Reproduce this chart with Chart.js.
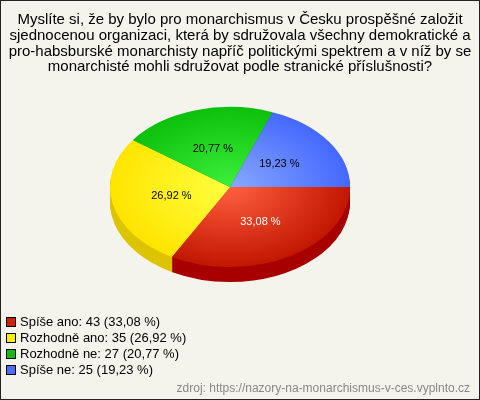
<!DOCTYPE html>
<html>
<head>
<meta charset="utf-8">
<script src="https://cdn.jsdelivr.net/npm/chart.js@4"></script>
<style>
  body { margin: 0; background: #fff; }
  canvas { display: block; }
</style>
</head>
<body>
<canvas id="anketa-chart" width="480" height="400"></canvas>
<script>
const titleLines = [
  "Myslíte si, že by bylo pro monarchismus v Česku prospěšné založit",
  "sjednocenou organizaci, která by sdružovala všechny demokratické a",
  "pro-habsburské monarchisty napříč politickými spektrem a v níž by se",
  "monarchisté mohli sdružovat podle stranické příslušnosti?",
];
const answers = ["Spíše ano", "Rozhodně ano", "Rozhodně ne", "Spíše ne"];
const votes = [43, 35, 27, 25];
const sourceText = "zdroj: https://nazory-na-monarchismus-v-ces.vyplnto.cz";

const topLight = ["#ff6040", "#ffff40", "#3cf03c", "#88a8ff"];
const topDark = ["#c21600", "#ffe400", "#0cc00c", "#4468ff"];
const sideColors = ["#a80000", "#dcc400", "#089008", "#2a48c0"];
const legendColors = ["#cc2200", "#ffee00", "#11bb11", "#4a6cff"];
const labelColors = ["#ffffff", "#000000", "#000000", "#000000"];

const FONT = "'Liberation Sans', Arial, sans-serif";
const CX = 230, CY = 187, TILT = 0.667, DEPTH = 15;

const total = votes.reduce((a, b) => a + b, 0);
const pct = (v) => (v / total * 100).toFixed(2).replace(".", ",") + " %";

const canvas = document.getElementById("anketa-chart");

// tilt the pie into an ellipse and give it a side
const pie3d = {
  id: "pie3d",
  beforeDraw(chart) {
    const ctx = chart.ctx;
    ctx.save();
    ctx.fillStyle = "#f4f4ec";
    ctx.fillRect(0, 0, chart.width, chart.height);
    ctx.strokeStyle = "#222";
    ctx.lineWidth = 1;
    ctx.strokeRect(0.5, 0.5, chart.width - 1, chart.height - 1);
    ctx.restore();
  },
  beforeDatasetsDraw(chart) {
    const ctx = chart.ctx;
    const arcs = chart.getDatasetMeta(0).data;
    for (let d = DEPTH; d > 0; d--) {
      ctx.save();
      ctx.translate(CX, CY + d);
      ctx.scale(1, TILT);
      ctx.translate(-arcs[0].x, -arcs[0].y);
      arcs.forEach((a, i) => {
        ctx.beginPath();
        ctx.moveTo(a.x, a.y);
        ctx.arc(a.x, a.y, a.outerRadius, a.startAngle, a.endAngle);
        ctx.closePath();
        ctx.fillStyle = sideColors[i];
        ctx.fill();
      });
      ctx.restore();
    }
    ctx.save();
    ctx.translate(CX, CY);
    ctx.scale(1, TILT);
    ctx.translate(-arcs[0].x, -arcs[0].y);
  },
  afterDatasetsDraw(chart) {
    const ctx = chart.ctx;
    ctx.restore();
    const arcs = chart.getDatasetMeta(0).data;
    ctx.save();
    ctx.font = "11px " + FONT;
    ctx.textAlign = "center";
    ctx.textBaseline = "middle";
    arcs.forEach((a, i) => {
      const mid = (a.startAngle + a.endAngle) / 2;
      const r = a.outerRadius * 0.5;
      ctx.fillStyle = labelColors[i];
      ctx.fillText(pct(votes[i]), CX + Math.cos(mid) * r, CY + Math.sin(mid) * r * TILT);
    });
    ctx.restore();
  },
  afterDraw(chart) {
    const ctx = chart.ctx;
    ctx.save();
    ctx.font = "13px " + FONT;
    ctx.textBaseline = "middle";
    answers.forEach((name, i) => {
      const y = 322 + i * 16;
      ctx.fillStyle = "#000";
      ctx.fillRect(6, y - 5, 10, 10);
      ctx.fillStyle = legendColors[i];
      ctx.fillRect(7, y - 4, 8, 8);
      ctx.fillStyle = "#000";
      ctx.fillText(`${name}: ${votes[i]} (${pct(votes[i])})`, 20, y);
    });
    ctx.font = "12px " + FONT;
    ctx.fillStyle = "#888";
    ctx.textAlign = "right";
    ctx.fillText(sourceText, 470, 389);
    ctx.restore();
  },
};

new Chart(canvas, {
  type: "pie",
  data: {
    labels: answers,
    datasets: [
      {
        data: votes,
        borderWidth: 0,
        clip: false,
        backgroundColor: (c) => {
          const area = c.chart.chartArea;
          const i = c.dataIndex;
          if (!area) return topDark[i];
          const x = (area.left + area.right) / 2;
          const y = (area.top + area.bottom) / 2;
          const r = Math.min(area.right - area.left, area.bottom - area.top) / 2;
          const g = c.chart.ctx.createRadialGradient(x, y, 0, x, y, r);
          g.addColorStop(0, topLight[i]);
          g.addColorStop(1, topDark[i]);
          return g;
        },
      },
    ],
  },
  options: {
    responsive: false,
    animation: false,
    events: [],
    rotation: 90,
    layout: { padding: { left: 0, right: 0, top: 0, bottom: 80 } },
    plugins: {
      legend: { display: false },
      tooltip: { enabled: false },
      title: {
        display: true,
        text: titleLines,
        color: "#000",
        font: { family: FONT, size: 15, weight: "normal", lineHeight: 1.05 },
        padding: { top: 12, bottom: 5 },
      },
    },
  },
  plugins: [pie3d],
});
</script>
</body>
</html>
